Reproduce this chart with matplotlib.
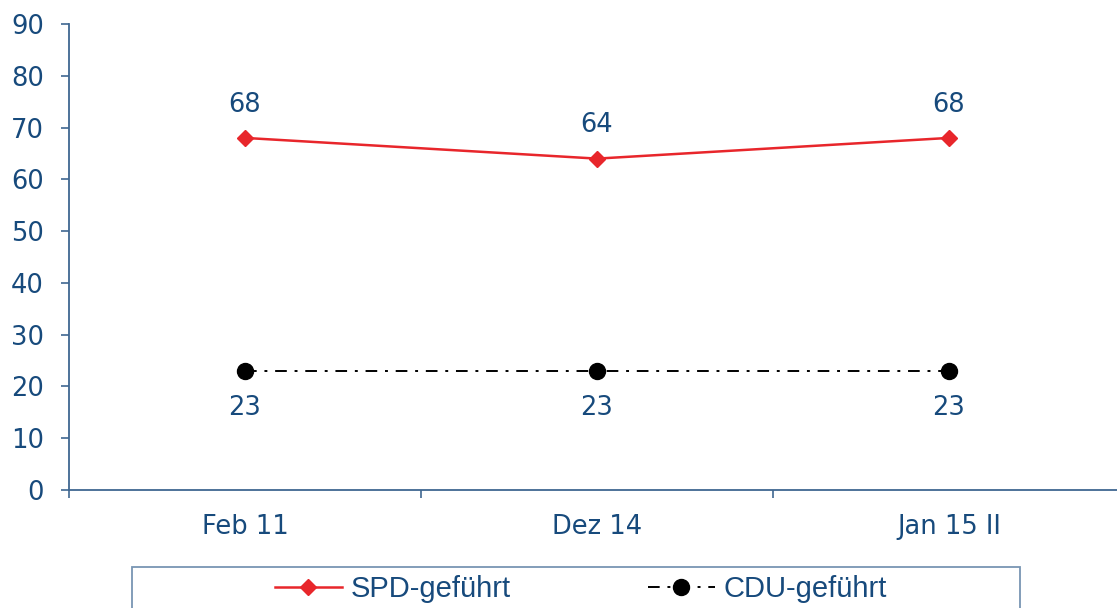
import matplotlib.pyplot as plt
from matplotlib.patches import Rectangle

categories = ["Feb 11", "Dez 14", "Jan 15 II"]
spd = [68, 64, 68]
cdu = [23, 23, 23]

text_col = "#174a7c"
axis_col = "#3f6791"

fig = plt.figure(figsize=(11.17, 6.08), dpi=100)
ax = fig.add_axes([69 / 1117, 1 - 490 / 608, 1056 / 1117, 466 / 608])

x = list(range(len(categories)))
ax.plot(x, spd, color="#e8262b", lw=1.8, marker="D", markersize=8.5,
        label="SPD-geführt", clip_on=False)
ax.plot(x, cdu, color="black", lw=1.4, marker="o", markersize=11.5,
        dashes=(6, 4, 1.5, 4), label="CDU-geführt", clip_on=False)

for xi, v in zip(x, spd):
    ax.annotate(str(v), (xi, v), xytext=(0, 24), textcoords="offset points",
                ha="center", va="center", fontsize=18.5, color=text_col)
for xi, v in zip(x, cdu):
    ax.annotate(str(v), (xi, v), xytext=(0, -27), textcoords="offset points",
                ha="center", va="center", fontsize=18.5, color=text_col)

ax.set_xlim(-0.5, 2.5)
ax.set_ylim(0, 90)
ax.set_yticks(range(0, 91, 10))
ax.set_xticks(x)
ax.set_xticklabels(categories)
ax.set_xticks([-0.5, 0.5, 1.5], minor=True)

for s in ["top", "right"]:
    ax.spines[s].set_visible(False)
for s in ["left", "bottom"]:
    ax.spines[s].set_color(axis_col)
    ax.spines[s].set_linewidth(1.3)

ax.tick_params(axis="y", direction="out", length=6, width=1.2, color=axis_col,
               labelsize=18.5, labelcolor=text_col, pad=12)
ax.tick_params(axis="x", which="major", length=0, labelsize=18.5,
               labelcolor=text_col, pad=17)
ax.tick_params(axis="x", which="minor", direction="out", length=6, width=1.2,
               color=axis_col)

# legend frame
fig.patches.append(Rectangle((132 / 1117, -0.05), 888 / 1117, 0.05 + 41 / 608,
                             transform=fig.transFigure, fill=False,
                             edgecolor="#7895b3", lw=1.3))
leg = fig.legend(loc="center", bbox_to_anchor=(0.52, 1 - 589 / 608), ncol=2,
                 frameon=False, columnspacing=4.7, handlelength=2.3,
                 handletextpad=0.3,
                 prop={"family": ["Liberation Sans Narrow", "Liberation Sans"], "size": 21})
for t in leg.get_texts():
    t.set_color(text_col)

fig.savefig("out.png", dpi=100)
